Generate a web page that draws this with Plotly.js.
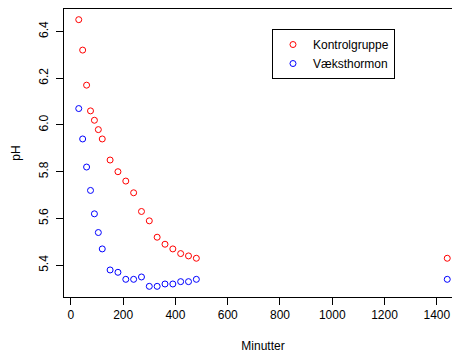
<!DOCTYPE html>
<html>
<head>
<meta charset="utf-8">
<script src="https://cdn.plot.ly/plotly-3.0.1.min.js"></script>
<style>
html, body { margin:0; padding:0; overflow:hidden; background:#fff; }
#chart { width:462px; height:354px; }
</style>
</head>
<body>
<div id="chart"></div>
<script>
const minutes = [30,45,60,75,90,105,120,150,180,210,240,270,300,330,360,390,420,450,480,1440];
const kontrolgruppe = [6.45,6.32,6.17,6.06,6.02,5.98,5.94,5.85,5.80,5.76,5.71,5.63,5.59,5.52,5.49,5.47,5.45,5.44,5.43,5.43];
const vaeksthormon = [6.07,5.94,5.82,5.72,5.62,5.54,5.47,5.38,5.37,5.34,5.34,5.35,5.31,5.31,5.32,5.32,5.33,5.33,5.34,5.34];
const seriesNames = ["Kontrolgruppe","Væksthormon"];
const xTicks = [0,200,400,600,800,1000,1200,1400];
const yTicks = [5.4,5.6,5.8,6.0,6.2,6.4];

const font = {family:"Liberation Sans, Arial, Helvetica, sans-serif", size:12, color:"#000"};

function mk(y, name, color){
  return {x:minutes, y:y, name:name, type:"scatter", mode:"markers",
    marker:{symbol:"circle-open", size:6, color:color, line:{width:1, color:color}}};
}
const data = [mk(kontrolgruppe, seriesNames[0], "#FF0000"), mk(vaeksthormon, seriesNames[1], "#0000FF")];

const layout = {
  width:462, height:354,
  margin:{l:64, r:0, t:9, b:57, pad:0},
  paper_bgcolor:"#fff", plot_bgcolor:"#fff",
  font:font,
  showlegend:true,
  legend:{x:0.5226, y:0.9305, xanchor:"left", yanchor:"top", bordercolor:"#000", borderwidth:1,
          bgcolor:"#fff", font:font, itemwidth:30},
  xaxis:{range:[-26.4,1496.4], tickvals:xTicks, ticktext:xTicks.map(String), ticks:"outside", ticklen:7,
         tickcolor:"#000", showgrid:false, zeroline:false, showline:true, linecolor:"#000", mirror:true,
         tickfont:font, title:{text:"Minutter", font:font, standoff:20}},
  yaxis:{range:[5.2644,6.4956], tickvals:yTicks, ticktext:yTicks.map(v=>v.toFixed(1)), ticks:"outside", ticklen:7,
         tickcolor:"#000", showgrid:false, zeroline:false, showline:true, linecolor:"#000", mirror:true,
         tickangle:-90, ticklabelstandoff:3, tickfont:font, title:{text:"pH", font:font, standoff:14}}
};
Plotly.newPlot("chart", data, layout, {displayModeBar:false, staticPlot:true});
</script>
</body>
</html>
